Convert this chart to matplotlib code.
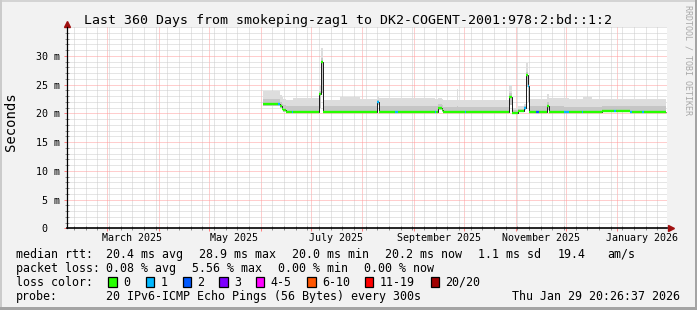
import numpy as np
import matplotlib
matplotlib.use('Agg')
import matplotlib.pyplot as plt
import matplotlib.dates as mdates
import matplotlib.transforms as mtrans
from matplotlib.ticker import FixedLocator, MultipleLocator
from matplotlib.patches import Rectangle

W, H = 697, 310
plt.rcParams['font.family'] = 'DejaVu Sans Mono'

# ---- data ----
title = 'Last 360 Days from smokeping-zag1 to DK2-COGENT-2001:978:2:bd::1:2'
t_start = np.datetime64('2025-02-04T19:40')
t_end = np.datetime64('2026-01-30T19:40')

# consolidated median (ms) as a step function: start of each step
seg_start = np.array([
    '2025-06-02T06:00', '2025-06-11T07:00', '2025-06-12T14:00', '2025-06-13T17:00',
    '2025-06-14T14:00', '2025-06-16T05:00', '2025-06-19T17:00', '2025-06-20T14:00',
    '2025-07-06T05:00', '2025-07-07T05:00', '2025-07-08T07:00', '2025-07-18T14:00',
    '2025-07-30T14:00', '2025-08-09T19:00', '2025-08-11T05:00', '2025-08-20T14:00',
    '2025-08-22T14:00', '2025-09-13T10:00', '2025-09-14T12:00', '2025-09-15T17:00',
    '2025-09-17T14:00', '2025-09-18T17:00', '2025-09-26T14:00', '2025-09-27T17:00',
    '2025-10-01T10:00', '2025-10-02T12:00', '2025-10-28T05:00', '2025-10-30T00:00',
    '2025-11-02T17:00', '2025-11-06T00:00', '2025-11-07T05:00', '2025-11-08T17:00',
    '2025-11-09T07:00', '2025-11-13T00:00', '2025-11-15T00:00', '2025-11-20T02:00',
    '2025-11-21T07:00', '2025-11-29T19:00', '2025-12-02T19:00', '2025-12-10T14:00',
    '2025-12-11T17:00', '2025-12-17T00:00', '2025-12-22T14:00', '2025-12-30T00:00',
    '2025-12-31T00:00', '2026-01-08T14:00', '2026-01-09T14:00', '2026-01-16T00:00',
    '2026-01-17T00:00'], dtype='datetime64[m]')
data_end = np.datetime64('2026-01-30T02:00')

median = [21.6, 21.6, 21.2, 20.7, 20.5, 20.3, 20.2, 20.3,
          23.3, 28.9, 20.3, 20.3, 20.3, 22.0, 20.3, 20.2,
          20.3, 20.3, 20.3, 20.9, 20.6, 20.3, 20.3, 20.3,
          20.3, 20.3, 22.9, 20.0, 20.4, 20.9, 26.6, 24.7,
          20.3, 20.3, 20.3, 21.3, 20.3, 20.2, 20.2, 20.2,
          20.2, 20.2, 20.4, 20.4, 20.4, 20.3, 20.3, 20.3,
          20.3]
smoke_lo = [21.3, 21.3, 20.9, 20.5, 20.3, 20.1, 20.1, 20.1,
            21.0, 23.5, 20.1, 20.1, 20.1, 21.4, 20.1, 20.0,
            20.1, 20.1, 20.1, 20.5, 20.3, 20.1, 20.1, 20.1,
            20.1, 20.1, 21.5, 19.9, 20.2, 20.5, 24.5, 22.0,
            20.1, 20.1, 20.1, 20.6, 20.1, 20.0, 20.0, 20.0,
            20.0, 20.0, 20.2, 20.2, 20.2, 20.1, 20.1, 20.1,
            20.1]
smoke_mid = [22.4, 22.4, 21.9, 21.6, 21.4, 21.2, 21.2, 21.2,
             23.8, 29.6, 21.2, 21.3, 21.2, 22.3, 21.2, 21.2,
             21.2, 21.2, 21.2, 21.6, 21.4, 21.1, 21.3, 21.1,
             21.1, 21.1, 23.5, 20.5, 20.8, 21.3, 27.2, 25.5,
             21.2, 21.2, 21.2, 22.0, 21.2, 21.1, 21.1, 21.1,
             21.1, 21.1, 21.2, 21.2, 21.2, 21.2, 21.2, 21.2,
             21.2]
smoke_hi = [23.8, 23.8, 23.2, 22.9, 22.4, 22.3, 22.3, 22.6,
            24.8, 31.3, 22.3, 22.9, 22.4, 22.8, 22.6, 22.6,
            22.7, 22.4, 22.4, 22.6, 22.4, 22.3, 24.2, 22.3,
            22.3, 22.3, 24.9, 21.0, 21.2, 21.6, 28.8, 26.5,
            22.5, 22.5, 22.5, 23.3, 22.6, 22.6, 22.4, 22.4,
            22.8, 22.4, 22.5, 22.5, 22.5, 22.4, 22.4, 22.4,
            22.4]
loss = [0, 1, 0, 0, 0, 0, 1, 0,
        0, 0, 0, 0, 0, 1, 0, 1,
        0, 1, 0, 0, 0, 0, 0, 0,
        1, 0, 0, 0, 0, 1, 0, 1,
        0, 2, 0, 0, 0, 1, 0, 1,
        0, 0, 0, 1, 0, 1, 0, 1,
        0]

loss_labels = ['0', '1', '2', '3', '4-5', '6-10', '11-19', '20/20']
loss_colors = ['#26ff00', '#00b8ff', '#0059ff', '#7e00ff',
               '#ff00ff', '#ff5500', '#ff0000', '#a00000']

y_ticks = [0, 5, 10, 15, 20, 25, 30]
y_tick_labels = ['0', '5 m', '10 m', '15 m', '20 m', '25 m', '30 m']
month_labels = ['March 2025', 'May 2025', 'July 2025', 'September 2025',
                'November 2025', 'January 2026']
month_label_at = np.array(['2025-03-16', '2025-05-16', '2025-07-16', '2025-09-16',
                           '2025-11-16', '2026-01-16'], dtype='datetime64[m]')

rtt_texts = ['median rtt:', '20.4 ms avg', '28.9 ms max', '20.0 ms min',
             '20.2 ms now', '1.1 ms sd', '19.4', 'am/s']
loss_texts = ['packet loss:', '0.08 % avg', '5.56 % max', '0.00 % min', '0.00 % now']
probe_texts = ['probe:', '20 IPv6-ICMP Echo Pings (56 Bytes) every 300s']
stamp = 'Thu Jan 29 20:26:37 2026'

# ---- figure ----
fig = plt.figure(figsize=(W / 100, H / 100), dpi=100, facecolor='#f2f2f2')
ax = fig.add_axes([67 / W, (H - 228.3) / H, 600 / W, 201.3 / H])
ax.set_facecolor('white')
ax.xaxis_date()
ax.set_xlim(mdates.date2num(t_start), mdates.date2num(t_end))
ax.set_ylim(0, 35)

ax.xaxis.set_major_locator(mdates.MonthLocator())
ax.xaxis.set_minor_locator(mdates.WeekdayLocator(byweekday=mdates.SU))
ax.yaxis.set_major_locator(FixedLocator(y_ticks))
ax.yaxis.set_minor_locator(MultipleLocator(1))
ax.set_axisbelow(True)
ax.grid(which='minor', color='#cccccc', lw=0.72, ls=(0, (1, 1)))
ax.grid(which='major', color='#ff9c9c', lw=0.72, ls=(0, (1, 1)))

ax.tick_params(which='both', labelbottom=False, labelleft=False, width=0.72)
ax.tick_params(which='major', direction='out', length=2.2, color='#ff8080')
ax.tick_params(which='minor', direction='inout', length=2.2, color='#909090')
for s in ['top', 'right']:
    ax.spines[s].set_visible(False)
ax.spines['bottom'].set_linewidth(1.2)
ax.spines['left'].set_linewidth(0.9)

# smoke and median
edges = mdates.date2num(np.append(seg_start, data_end))
ax.stairs(smoke_hi, edges, baseline=smoke_lo, fill=True, color='#dddddd', lw=0)
ax.stairs(smoke_mid, edges, baseline=smoke_lo, fill=True, color='#c6c6c6', lw=0)
ax.stairs(median, edges, baseline=None, color='#202020', lw=0.72)
ax.hlines(median, edges[:-1], edges[1:], colors=[loss_colors[l] for l in loss], lw=1.7)

# axis arrows
ax.plot([0], [1.016], marker='^', ms=4.2, color='#a01010', transform=ax.transAxes, clip_on=False)
ax.plot([1.0067], [0], marker='>', ms=4.2, color='#a01010', transform=ax.transAxes, clip_on=False)

# axis labels
tr_y = mtrans.blended_transform_factory(fig.transFigure, ax.transData)
for v, lab in zip(y_ticks, y_tick_labels):
    xr = 47.5 if lab == '0' else 60
    ax.text(xr / W, v, lab, transform=tr_y, ha='right', va='center_baseline', fontsize=7.24)
tr_x = mtrans.blended_transform_factory(ax.transData, fig.transFigure)
for d, lab in zip(mdates.date2num(month_label_at), month_labels):
    ax.text(d, 1 - 241 / H, lab, transform=tr_x, ha='center', va='baseline', fontsize=7.24)


def ftext(x, y, s, **kw):
    fig.text(x / W, 1 - y / H, s, **kw)


ftext(347.5, 24.3, title, ha='center', va='baseline', fontsize=9.57)
ftext(11, 122, 'Seconds', rotation=90, ha='center', va='center', fontsize=10)
ftext(688.3, 60, 'RRDTOOL / TOBI OETIKER', rotation=270, ha='center', va='center',
      fontsize=6, color='#a8a8a8')

lf = 8.37
for x, s in zip([15.5, 106.5, 199, 292.5, 385, 478.5, 558, 607], rtt_texts):
    ftext(x, 257.7, s, fontsize=lf, va='baseline')
for x, s in zip([15.5, 106.5, 192.5, 277.5, 364.5], loss_texts):
    ftext(x, 271.7, s, fontsize=lf, va='baseline')
ftext(15.5, 285.7, 'loss color:', fontsize=lf, va='baseline')
for x, lab, c in zip([108.3, 145.7, 182.7, 219.3, 256, 307.3, 365, 430.7], loss_labels, loss_colors):
    fig.add_artist(Rectangle((x / W, 1 - 286.7 / H), 8.4 / W, 9.4 / H, transform=fig.transFigure,
                             facecolor=c, edgecolor='black', lw=0.9))
    ftext(x + 14.5, 285.7, lab, fontsize=lf, va='baseline')
for x, s in zip([15.5, 106.5], probe_texts):
    ftext(x, 299.7, s, fontsize=lf, va='baseline')
ftext(680.5, 299.7, stamp, fontsize=lf, va='baseline', ha='right')

# frame
for (x, y, w, h, c) in [(0, 0, W, 2, '#d4d4d4'), (0, 0, 2, H, '#cbcbcb'),
                        (W - 2.5, 0, 2.5, H, '#a4a4a4'), (0, H - 3.5, W, 3.5, '#a4a4a4')]:
    fig.add_artist(Rectangle((x / W, 1 - (y + h) / H), w / W, h / H, transform=fig.transFigure,
                             facecolor=c, edgecolor='none'))

fig.savefig('out.png', dpi=100, facecolor=fig.get_facecolor())
